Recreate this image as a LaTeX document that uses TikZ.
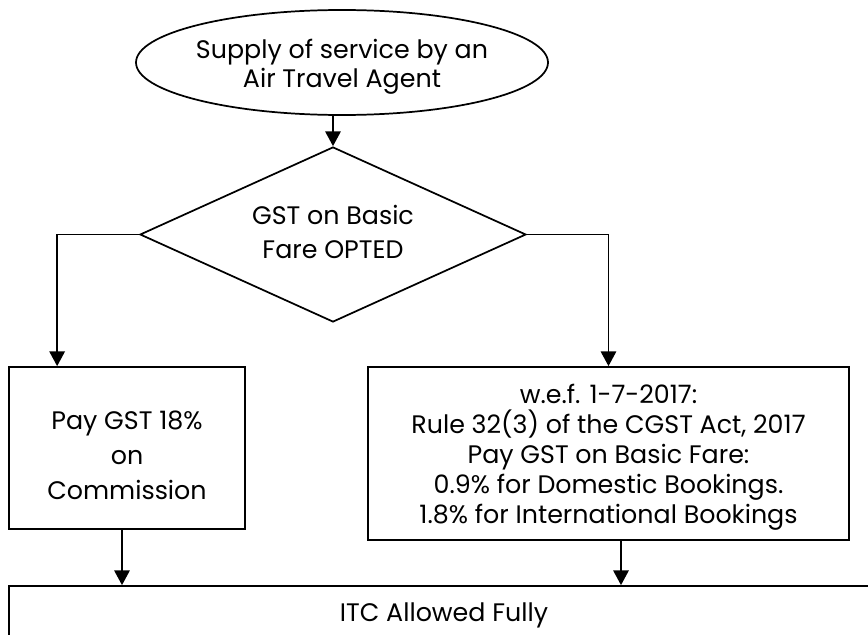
\documentclass[tikz,border=0pt]{standalone}
\usepackage{fontspec}
\setmainfont{Poppins}
\usetikzlibrary{shapes.geometric,arrows.meta,calc}
\begin{document}
\begin{tikzpicture}[x=0.75pt,y=-0.75pt,
  line width=1.3pt,
  every node/.style={inner sep=0pt,align=center,font=\fontsize{19}{22}\selectfont},
  shp/.style={draw,line width=1.3pt},
  arr/.style={-{Triangle[length=11pt,width=11.5pt]},line width=1.3pt}]
\clip (0,0) rectangle (868,635);
\path[use as bounding box] (0,0) rectangle (868,635);
% shapes
\node[shp,ellipse,minimum width=309pt,minimum height=78.75pt] (ell) at (342,62.5) {};
\node[shp,diamond,minimum width=289.5pt,minimum height=131.25pt] (dia) at (333,234.5) {};
\node[shp,rectangle,minimum width=177pt,minimum height=121.5pt] (lbox) at (127,448) {};
\node[shp,rectangle,minimum width=360.75pt,minimum height=129.75pt] (rbox) at (608.5,453.5) {};
\node[shp,rectangle,minimum width=653.25pt,minimum height=48pt] (bbox) at (444.5,618) {};
% texts
\node[font=\fontsize{19}{21.75}\selectfont] (ellT) at (342,66.5)
  {Supply of service by an\\Air Travel Agent};
\node[font=\fontsize{19}{25.5}\selectfont] (diaT) at (333,232)
  {GST on Basic\\Fare OPTED};
\node[font=\fontsize{19}{26.25}\selectfont] (lboxT) at (127,455)
  {Pay GST 18\%\\on\\Commission};
\node[font={\fontsize{19}{22.5}\selectfont\lineskiplimit=-50pt\relax}] (rboxT) at (608.5,457)
  {w.e.f. 1-7-2017:\\Rule 32(3) of the CGST Act, 2017\\Pay GST on Basic Fare:\\0.9\% for Domestic Bookings.\\1.8\% for International Bookings};
\node (bboxT) at (444,615) {ITC Allowed Fully};
% connectors
\coordinate (ltop) at ($(lbox.north west)+(49,0)$);
\coordinate (lbot) at ($(lbox.south)+(-5,0)$);
\coordinate (rbot) at ($(rbox.south)+(12.5,0)$);
\draw[arr] (dia.north |- ell.south) -- (dia.north);
\draw[arr] (dia.west) -| (ltop);
\draw[arr] (dia.east) -| (rbox.north);
\draw[arr] (lbot) -- (lbot |- bbox.north);
\draw[arr] (rbot) -- (rbot |- bbox.north);
\end{tikzpicture}
\end{document}
